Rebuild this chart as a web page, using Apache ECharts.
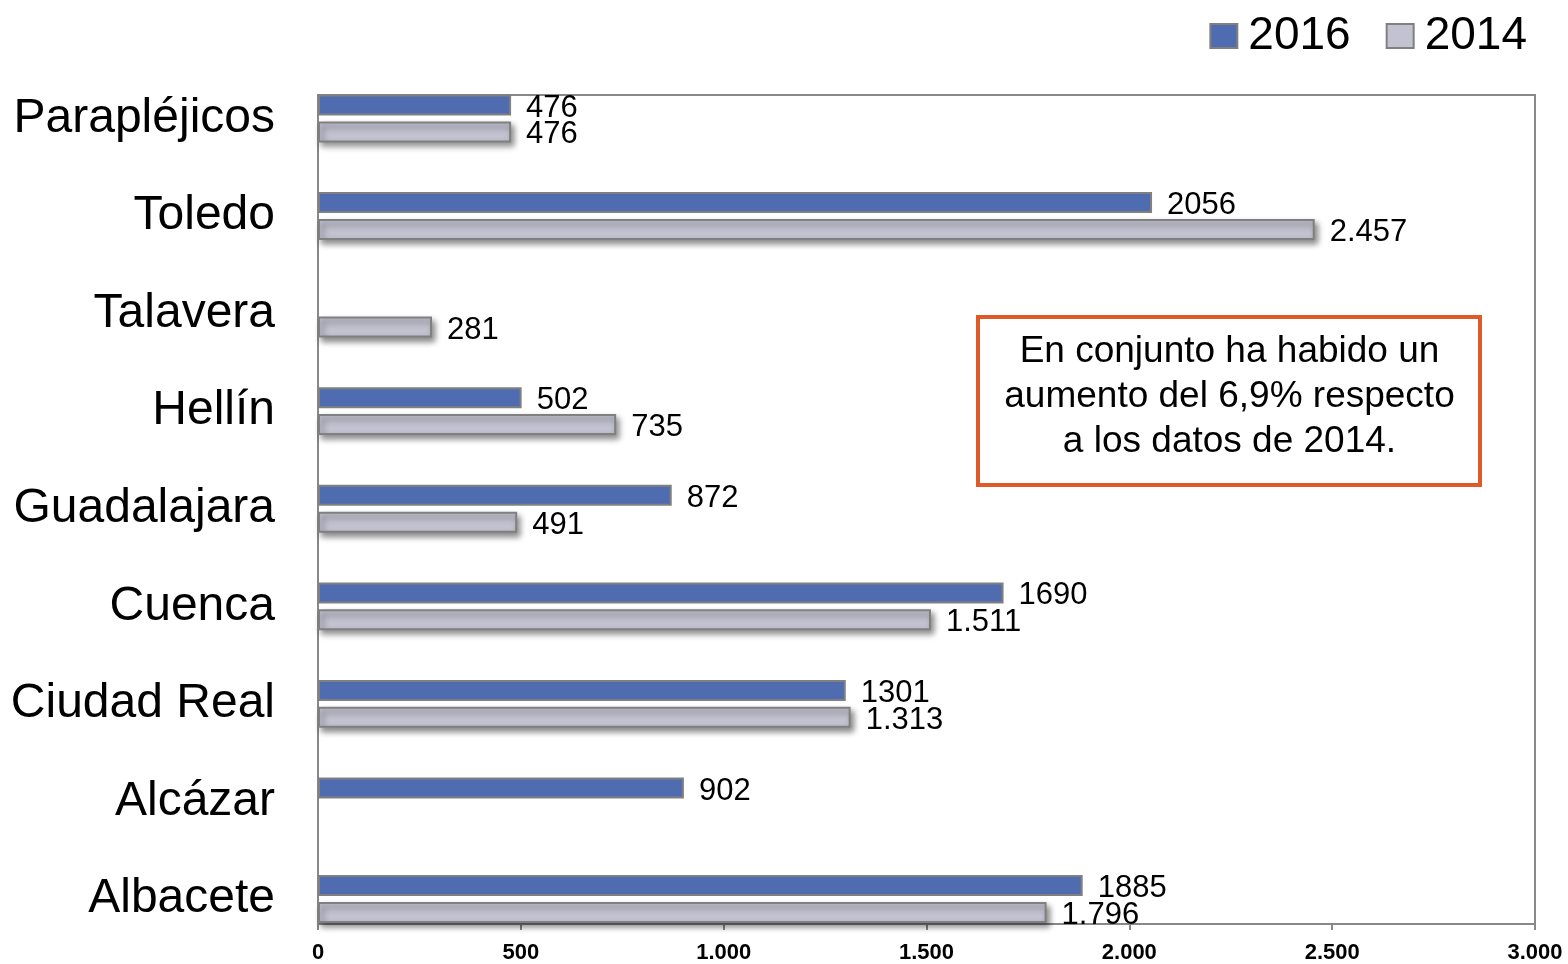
<!DOCTYPE html>
<html>
<head>
<meta charset="utf-8">
<script src="https://cdn.jsdelivr.net/npm/echarts@6/dist/echarts.min.js"></script>
<style>
  html, body { margin: 0; padding: 0; background: #fff; }
  #chart { width: 1568px; height: 964px; }
</style>
</head>
<body>
<div id="chart"></div>
<script>
// datos (de abajo hacia arriba)
const categorias = ['Albacete', 'Alcázar', 'Ciudad Real', 'Cuenca', 'Guadalajara', 'Hellín', 'Talavera', 'Toledo', 'Parapléjicos'];
const datos2016 = [1885, 902, 1301, 1690, 872, 502, null, 2056, 476];
const datos2014 = [1796, null, 1313, 1511, 491, 735, 281, 2457, 476];
const ticksX = [0, 500, 1000, 1500, 2000, 2500, 3000];
const nota = ['En conjunto ha habido un', 'aumento del 6,9% respecto', 'a los datos de 2014.'];

const FONT = "'Liberation Sans', Arial, Helvetica, sans-serif";

// 1234 -> 1.234
function puntos(v) {
    return String(v).replace(/\B(?=(\d{3})+(?!\d))/g, '.');
}

const chart = echarts.init(document.getElementById('chart'));

const option = {
    animation: false,
    legend: {
        data: ['2016', '2014'],
        right: 36,
        top: 8,
        itemWidth: 27,
        itemHeight: 24,
        itemGap: 35,
        icon: 'rect',
        textStyle: { fontSize: 46, color: '#000', fontFamily: FONT, padding: [0, 0, 0, 6] }
    },
    grid: [
        // barras
        { left: 318, right: 33, top: 69.7, bottom: 16.2 },
        // marco y eje X
        { left: 318, right: 33, top: 95, bottom: 39, show: true, borderColor: '#888', borderWidth: 2, backgroundColor: 'transparent' }
    ],
    xAxis: [
        { gridIndex: 0, type: 'value', min: 0, max: 3000, show: false },
        {
            gridIndex: 1, type: 'value', min: 0, max: 3000, interval: 500,
            axisLine: { show: true, lineStyle: { color: '#888', width: 2 } },
            axisTick: { show: true, length: 6, lineStyle: { color: '#888', width: 2 } },
            splitLine: { show: false },
            axisLabel: {
                margin: 18, fontSize: 22, fontWeight: 'bold', color: '#000', fontFamily: FONT,
                formatter: function (v) { return ticksX.indexOf(v) >= 0 ? puntos(v) : ''; }
            }
        }
    ],
    yAxis: [
        {
            gridIndex: 0, type: 'category', data: categorias,
            axisLine: { show: false },
            axisTick: { show: false },
            axisLabel: { margin: 43, fontSize: 48, color: '#000', fontFamily: FONT, padding: [6, 0, 0, 0] }
        },
        {
            gridIndex: 1, type: 'value', min: 0, max: 1,
            axisLine: { show: true, lineStyle: { color: '#888', width: 2 } },
            axisTick: { show: false },
            axisLabel: { show: false },
            splitLine: { show: false }
        }
    ],
    series: [
        {
            name: '2016', type: 'bar', xAxisIndex: 0, yAxisIndex: 0,
            data: datos2016,
            barWidth: 21,
            barGap: '28%',
            itemStyle: { color: '#506CB0', borderColor: '#808080', borderWidth: 2 },
            label: {
                show: true, position: 'right', distance: 15, offset: [0, 3],
                fontSize: 31, color: '#000', fontFamily: FONT,
                formatter: function (p) { return p.value; }
            }
        },
        {
            name: '2014', type: 'bar', xAxisIndex: 0, yAxisIndex: 0,
            data: datos2014,
            barWidth: 21,
            barGap: '28%',
            itemStyle: {
                color: '#C2C2D0', borderColor: '#808080', borderWidth: 2,
                shadowColor: 'rgba(0,0,0,0.45)', shadowBlur: 6, shadowOffsetX: 3, shadowOffsetY: 4
            },
            label: {
                show: true, position: 'right', distance: 15, offset: [0, 3],
                fontSize: 31, color: '#000', fontFamily: FONT,
                formatter: function (p) { return puntos(p.value); }
            }
        }
    ],
    graphic: [
        {
            type: 'rect', left: 976, top: 315, z: 10,
            shape: { width: 502, height: 168 },
            style: { fill: '#fff', stroke: '#E05A28', lineWidth: 4 }
        },
        {
            type: 'text', x: 1229.5, y: 397, z: 11,
            style: {
                text: nota.join('\n'),
                fontSize: 37, lineHeight: 45, fontFamily: FONT, fill: '#000',
                align: 'center', verticalAlign: 'middle'
            }
        }
    ]
};

chart.setOption(option);
</script>
</body>
</html>
